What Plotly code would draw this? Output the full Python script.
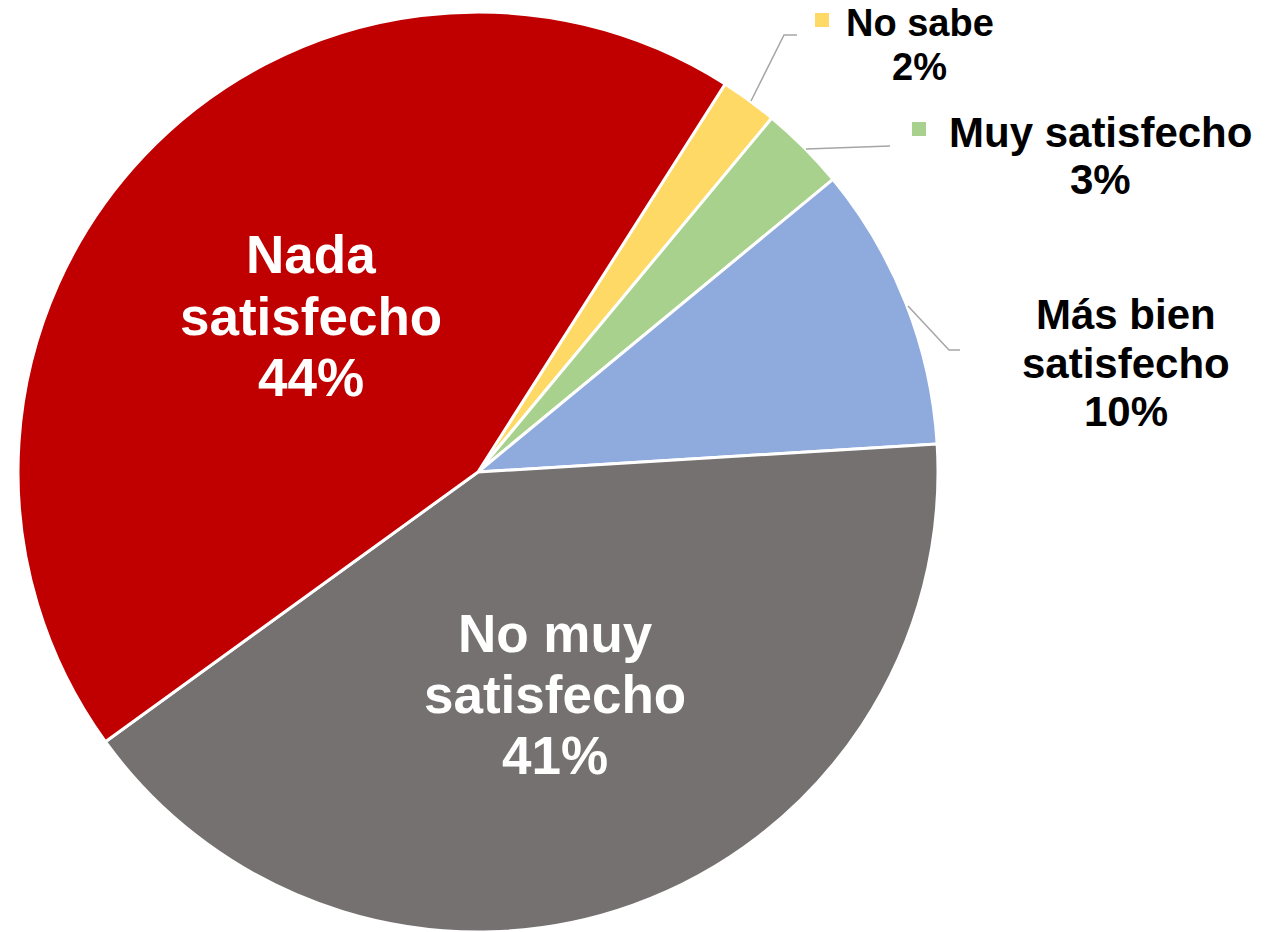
import plotly.graph_objects as go

W, H = 1272, 932
OFF = 8  # page body margin shifts the figure by 8px

# data (clockwise from the top-right boundary)
labels = ["No sabe", "Muy satisfecho", "Más bien satisfecho", "No muy satisfecho", "Nada satisfecho"]
values = [2, 3, 10, 41, 44]
colors = ["#FFD966", "#A9D18E", "#8FAADC", "#767171", "#C00000"]

# label text lines (last line is the percentage)
label_lines = [["No sabe"], ["Muy satisfecho"], ["Más bien", "satisfecho"],
               ["No muy", "satisfecho"], ["Nada", "satisfecho"]]

# layout for labels: centre x (px), first line y (px), line step (px), font size, colour
label_pos = [(920, 23, 44, 38, "#000000"),
             (1100, 133, 47, 42, "#000000"),
             (1126, 315, 48, 42, "#000000"),
             (555, 633, 61, 53, "#FFFFFF"),
             (311, 255, 61, 53, "#FFFFFF")]

# leader lines (px) and legend keys for the small slices
leaders = [[(751, 101), (784, 35), (797, 35)],
           [(806, 149), (890, 146)],
           [(908, 306), (949, 350), (960, 350)]]
keys = [(822, 20, "#FFD966"), (919, 129, "#A9D18E")]


def px(x, y):
    return (x - OFF) / W, 1 - (y - OFF) / H


fig = go.Figure(go.Pie(
    labels=labels, values=values, sort=False, direction="clockwise", rotation=32.5,
    marker=dict(colors=colors, line=dict(color="#FFFFFF", width=3)),
    textinfo="none", hoverinfo="label+percent", showlegend=False,
    domain=dict(x=[(18 - OFF) / W, (938 - OFF) / W], y=[1 - (932 - OFF) / H, 1 - (12 - OFF) / H]),
))

annotations = []
for lines, v, (cx, y0, step, fs, col) in zip(label_lines, values, label_pos):
    for i, t in enumerate(lines + [f"{v}%"]):
        x, y = px(cx, y0 + i * step)
        annotations.append(dict(
            x=x, y=y, xref="paper", yref="paper", text=f"<b>{t}</b>", showarrow=False,
            xanchor="center", yanchor="middle",
            font=dict(family="Liberation Sans, Arial", size=fs, color=col)))

shapes = []
for pts in leaders:
    path = ""
    for j, (x, y) in enumerate(pts):
        u, v = px(x, y)
        path += ("M" if j == 0 else "L") + f"{u},{v} "
    shapes.append(dict(type="path", xref="paper", yref="paper", path=path,
                       line=dict(color="#A6A6A6", width=1.5)))
for x, y, c in keys:
    x0, y0 = px(x - 7, y - 7)
    x1, y1 = px(x + 7, y + 7)
    shapes.append(dict(type="rect", xref="paper", yref="paper", x0=x0, y0=y0, x1=x1, y1=y1,
                       fillcolor=c, line=dict(width=0)))

fig.update_layout(
    width=W, height=H, margin=dict(l=0, r=0, t=0, b=0),
    paper_bgcolor="#FFFFFF", plot_bgcolor="#FFFFFF",
    annotations=annotations, shapes=shapes,
)

fig.write_html("out.html")
